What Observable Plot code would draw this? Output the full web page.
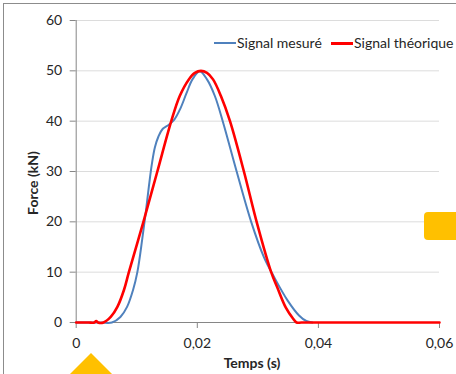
<!DOCTYPE html>
<html><head><meta charset="utf-8">
<script src="https://cdn.jsdelivr.net/npm/d3@7"></script>
<script src="https://cdn.jsdelivr.net/npm/@observablehq/plot@0.6"></script>
<style>
body{margin:0;background:#fff;}
#wrap{position:relative;width:456px;height:374px;overflow:hidden;font-family:Lato,"Open Sans",sans-serif;color:#262626;}
#frame{position:absolute;left:3px;top:3px;width:470px;height:390px;border-top:1px solid #8c8c8c;border-left:1px solid #8c8c8c;}
#chart{position:absolute;left:0;top:0;}
.lg{position:absolute;top:34px;font-size:14px;white-space:nowrap;line-height:18px;}
.lg span.sw{display:inline-block;width:22px;vertical-align:middle;margin-right:1px;position:relative;top:-1px;}
.ttl{position:absolute;font-weight:bold;font-size:14px;white-space:nowrap;}
#rect{position:absolute;left:424px;top:212px;width:50px;height:28px;background:#FFC000;border-radius:4px;}
#tri{position:absolute;left:69px;top:353px;width:0;height:0;border-left:22px solid transparent;border-right:22px solid transparent;border-bottom:22px solid #FFC000;}
</style>
</head><body>
<div id="wrap">
  <div id="frame"></div>
  <div id="chart"></div>
  <div class="lg" style="left:214px"><span class="sw" style="border-top:2px solid #4F81BD"></span>Signal mesuré</div>
  <div class="lg" style="left:331px"><span class="sw" style="border-top:3px solid #FF0000"></span>Signal théorique</div>
  <div class="ttl" id="xt" style="left:252px;top:354px;transform:translateX(-50%)">Temps (s)</div>
  <div class="ttl" id="yt" style="left:32px;top:183px;transform:translate(-50%,-50%) rotate(-90deg)">Force (kN)</div>
  <div id="rect"></div>
  <div id="tri"></div>
</div>
<script>
// Measured signal (time in s, force in kN)
const timeMeasured = [0, 0.0040, 0.0059, 0.0073, 0.0084, 0.0094, 0.0101, 0.0109, 0.0115, 0.0120, 0.0125, 0.0130, 0.0136, 0.0143, 0.0153, 0.0162, 0.0172, 0.0182, 0.0192, 0.0204, 0.0216, 0.0229, 0.0242, 0.0265, 0.0289, 0.0310, 0.0327, 0.0349, 0.0368, 0.0380, 0.0390];
const forceMeasured = [0, 0, 0, 1.1, 3.1, 6.5, 10.0, 16.5, 22.0, 27.0, 31.5, 34.8, 37.0, 38.5, 39.3, 40.3, 42.5, 45.5, 48.3, 49.9, 48.3, 45.0, 40.0, 30.0, 20.0, 13.0, 9.0, 4.4, 1.4, 0.3, 0];
// Theoretical signal
const timeTheory = [0, 0.0020, 0.0030, 0.0033, 0.0036, 0.0045, 0.0057, 0.0068, 0.0079, 0.0087, 0.0111, 0.0134, 0.0157, 0.0171, 0.0186, 0.0196, 0.0206, 0.0216, 0.0226, 0.0239, 0.0254, 0.0277, 0.0298, 0.0322, 0.0332, 0.0346, 0.0358, 0.0364, 0.0372, 0.0450, 0.0600];
const forceTheory = [0, 0, 0, 0.3, 0, 0, 1.1, 3.1, 6.5, 10.0, 20.0, 30.0, 40.0, 45.0, 48.3, 49.6, 50.0, 49.6, 48.3, 45.0, 40.0, 30.0, 20.0, 10.0, 7.0, 3.0, 0.8, 0, 0, 0, 0];
const xTicks = [0, 0.02, 0.04, 0.06];
const yTicks = [0, 10, 20, 30, 40, 50, 60];

const measured = timeMeasured.map((t, i) => ({t, f: forceMeasured[i]}));
const theory = timeTheory.map((t, i) => ({t, f: forceTheory[i]}));
const fmt = d => d === 0 ? "0" : d.toFixed(2).replace(".", ",");

const chart = Plot.plot({
  width: 456, height: 374,
  marginLeft: 75.7, marginRight: 17, marginTop: 20, marginBottom: 52,
  style: {fontFamily: "Lato, 'Open Sans', sans-serif", fontSize: "14px", color: "#262626", background: "transparent"},
  x: {domain: [0, 0.06]},
  y: {domain: [0, 60]},
  marks: [
    Plot.gridY(yTicks.filter(d => d > 0), {stroke: "#dcdcdc", strokeOpacity: 1}),
    Plot.axisY(yTicks, {tickSize: 6, tickPadding: 8, stroke: "#868686", fill: "#262626", label: null}),
    Plot.axisX(xTicks, {tickSize: 6, tickPadding: 10, stroke: "#868686", fill: "#262626", label: null, tickFormat: fmt}),
    Plot.ruleX([0], {stroke: "#868686"}),
    Plot.ruleY([0], {stroke: "#868686"}),
    Plot.line(measured, {x: "t", y: "f", stroke: "#4F81BD", strokeWidth: 2, curve: "catmull-rom"}),
    Plot.line(theory, {x: "t", y: "f", stroke: "#FF0000", strokeWidth: 2.6, curve: "catmull-rom"})
  ]
});
document.getElementById("chart").appendChild(chart);
</script>
</body></html>
